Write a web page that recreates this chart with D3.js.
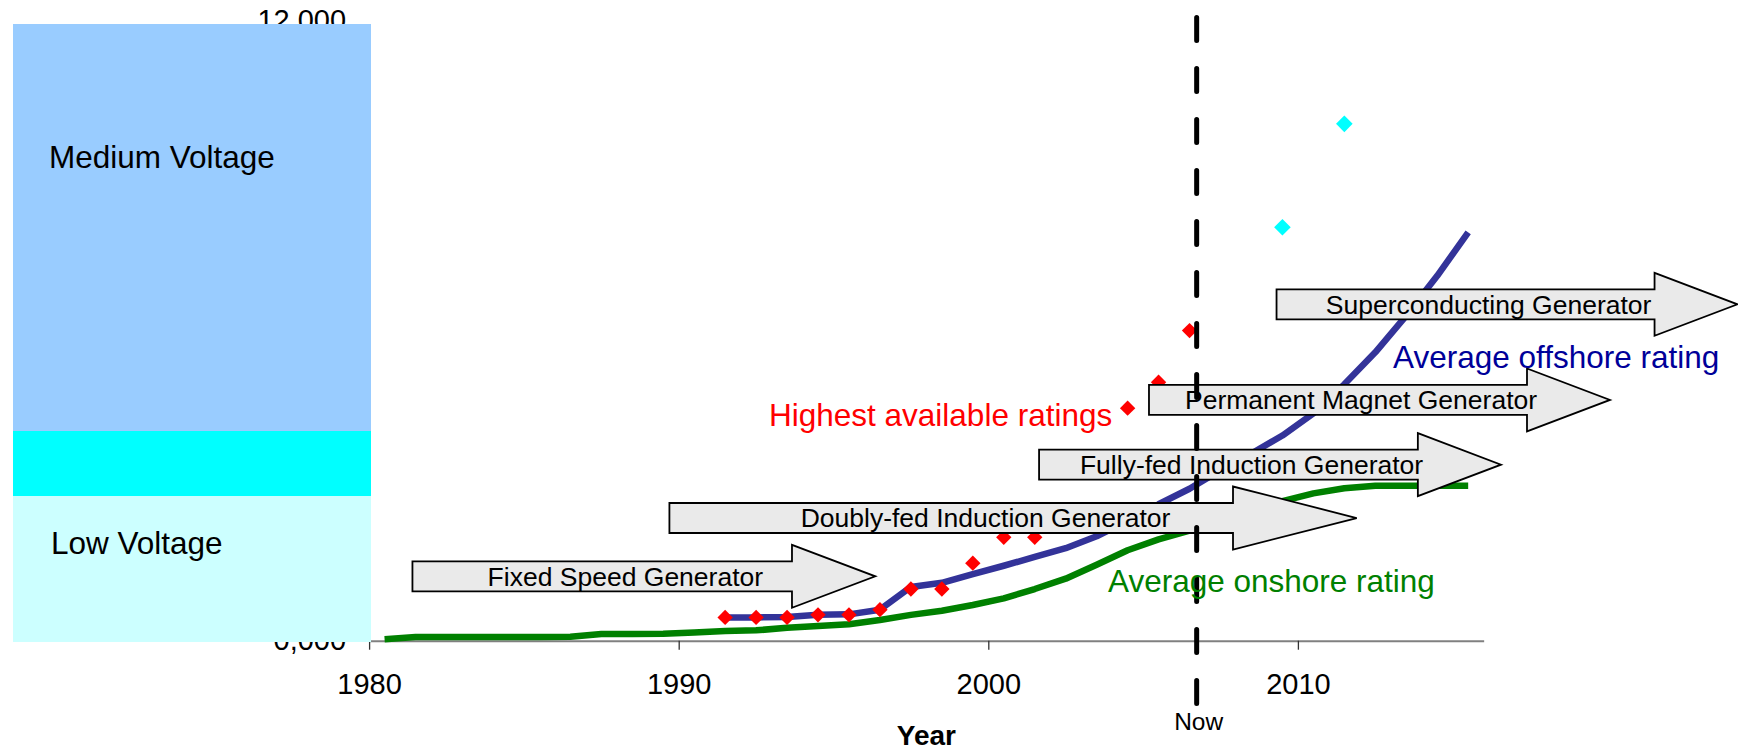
<!DOCTYPE html>
<html>
<head>
<meta charset="utf-8">
<script src="https://cdn.jsdelivr.net/npm/d3@7"></script>
<style>
  html, body { margin: 0; padding: 0; background: #ffffff; }
  svg { display: block; font-family: "Liberation Sans", Arial, sans-serif; }
</style>
</head>
<body>
<svg id="chart" width="1738" height="752"></svg>
<script>
// ---------------- data ----------------
const xTickYears = [1980, 1990, 2000, 2010];
const yTickValues = [0, 2000, 4000, 6000, 8000, 10000, 12000];

// Average onshore rating (kW)
const onshoreYears = [1980.5, 1981.5, 1982.5, 1983.5, 1984.5, 1985.5, 1986.5, 1987.5, 1988.5, 1989.5,
  1990.5, 1991.5, 1992.5, 1993.5, 1994.5, 1995.5, 1996.5, 1997.5, 1998.5, 1999.5,
  2000.5, 2001.5, 2002.5, 2003.5, 2004.5, 2005.5, 2006.5, 2007.5, 2008.5, 2009.5,
  2010.5, 2011.5, 2012.5, 2013.5, 2014.5, 2015.5];
const onshoreValues = [30, 70, 70, 70, 70, 70, 75, 130, 130, 135,
  160, 190, 200, 250, 285, 320, 400, 500, 580, 690,
  820, 1000, 1200, 1470, 1750, 1960, 2130, 2340, 2550, 2700,
  2850, 2950, 3000, 3000, 3000, 3000];

// Average offshore rating (kW)
const offshoreYears = [1991.5, 1992.5, 1993.5, 1994.5, 1995.5, 1996.5, 1997.5, 1998.5, 1999.5,
  2000.5, 2001.5, 2002.5, 2003.5, 2004.5, 2005.5, 2006.5, 2007.5, 2008.5, 2009.5,
  2010.5, 2011.5, 2012.5, 2013.5, 2014.5, 2015.5];
const offshoreValues = [450, 450, 460, 500, 510, 600, 1040, 1120, 1290,
  1450, 1620, 1790, 2020, 2320, 2640, 2940, 3300, 3620, 3970,
  4400, 4960, 5580, 6290, 7060, 7900];

// Highest available ratings (kW)
const highestYears = [1991.5, 1992.5, 1993.5, 1994.5, 1995.5, 1996.5, 1997.5, 1998.5, 1999.5,
  2000.5, 2001.5, 2004.5, 2005.5, 2006.5];
const highestValues = [450, 450, 450, 500, 500, 600, 1000, 1000, 1500, 2000, 2000, 4500, 5000, 6000];

// Future ratings (kW)
const futureYears = [2009.5, 2011.5];
const futureValues = [8000, 10000];

// Generator technology arrows
const arrowLabels = ["Fixed Speed Generator", "Doubly-fed Induction Generator",
  "Fully-fed Induction Generator", "Permanent Magnet Generator", "Superconducting Generator"];
const arrowStartYears = [1981.4, 1989.7, 2001.64, 2005.19, 2009.31];
const arrowEndYears = [1996.35, 2011.9, 2016.56, 2020.08, 2024.2];
const arrowLevels = [1246, 2374, 3406, 4658, 6509];

// Voltage bands (kW)
const bandNames = ["Low Voltage", "", "Medium Voltage"];
const bandFrom = [0, 2820, 4070];
const bandTo = [2820, 4070, 11930];

const nowYear = 2006.73;

// ---------------- chart ----------------
const svg = d3.select("#chart");
const W = 1738, H = 752;
svg.append("rect").attr("width", W).attr("height", H).attr("fill", "#ffffff");

const x = d3.scaleLinear().domain([1980, 2016]).range([369.1, 369.1 + 36 * 30.96]);
const y = d3.scaleLinear().domain([0, 12000]).range([640.7, 20.5]);

const FONT = '"Liberation Sans", Arial, sans-serif';

// y axis (mostly covered by voltage bands)
const fmtY = v => {
  const s = String(Math.round(v)).padStart(4, "0");
  return s.replace(/\B(?=(\d{3})+(?!\d))/g, ",");
};
const yAxis = svg.append("g")
  .attr("transform", `translate(${x(1980)},0)`)
  .call(d3.axisLeft(y).tickValues(yTickValues).tickFormat(fmtY)
    .tickSize(0).tickSizeOuter(0).tickPadding(23));
yAxis.select(".domain").remove();
yAxis.selectAll("text").attr("font-size", 29).attr("font-family", FONT).attr("fill", "#000");

// x axis
const xAxis = svg.append("g")
  .attr("transform", `translate(0,${y(0)})`)
  .call(d3.axisBottom(x).tickValues(xTickYears).tickFormat(d3.format("d"))
    .tickSize(9).tickSizeOuter(0).tickPadding(24));
xAxis.select(".domain").attr("stroke", "#808080").attr("stroke-width", 2);
xAxis.selectAll(".tick line").attr("stroke", "#333").attr("stroke-width", 1.3);
xAxis.selectAll("text").attr("font-size", 29).attr("font-family", FONT).attr("fill", "#000");

// voltage bands
const bandColors = ["#ccffff", "#00ffff", "#99ccff"];
const bandLeft = 13, bandRight = 371;
svg.append("g").attr("shape-rendering", "crispEdges")
  .selectAll("rect").data(bandFrom).join("rect")
  .attr("x", bandLeft)
  .attr("width", bandRight - bandLeft)
  .attr("y", (d, i) => Math.round(y(bandTo[i])))
  .attr("height", (d, i) => Math.round(y(bandFrom[i])) - Math.round(y(bandTo[i])) + 1)
  .attr("fill", (d, i) => bandColors[i]);

svg.append("text").attr("x", 51).attr("y", 554)
  .attr("font-size", 31.5).attr("font-family", FONT).attr("fill", "#000").text(bandNames[0]);
svg.append("text").attr("x", 49).attr("y", 168)
  .attr("font-size", 31.5).attr("font-family", FONT).attr("fill", "#000").text(bandNames[2]);

// lines
const line = d3.line().x(d => x(d[0])).y(d => y(d[1]));
svg.append("path")
  .datum(onshoreYears.map((yr, i) => [yr, onshoreValues[i]]))
  .attr("d", line).attr("fill", "none").attr("stroke", "#008000")
  .attr("stroke-width", 6.5).attr("stroke-linejoin", "round");
svg.append("path")
  .datum(offshoreYears.map((yr, i) => [yr, offshoreValues[i]]))
  .attr("d", line).attr("fill", "none").attr("stroke", "#333399")
  .attr("stroke-width", 6.5).attr("stroke-linejoin", "round");

// diamonds
const diamond = {
  draw(ctx, size) {
    const r = Math.sqrt(size / 2);
    ctx.moveTo(0, -r); ctx.lineTo(r, 0); ctx.lineTo(0, r); ctx.lineTo(-r, 0); ctx.closePath();
  }
};
svg.append("g").selectAll("path").data(highestYears).join("path")
  .attr("transform", (d, i) => `translate(${x(d)},${y(highestValues[i])})`)
  .attr("d", d3.symbol(diamond, 118)())
  .attr("fill", "#ff0000");
svg.append("g").selectAll("path").data(futureYears).join("path")
  .attr("transform", (d, i) => `translate(${x(d)},${y(futureValues[i])})`)
  .attr("d", d3.symbol(diamond, 138)())
  .attr("fill", "#00ffff");

// arrows
const shaftH = 30, headH = 63;
const arrowG = svg.append("g");
arrowLabels.forEach((label, i) => {
  const x0 = x(arrowStartYears[i]), x1 = x(arrowEndYears[i]);
  const cy = y(arrowLevels[i]);
  const headLen = 0.18 * (x1 - x0);
  const xb = x1 - headLen;
  const p = d3.path();
  p.moveTo(x0, cy - shaftH / 2);
  p.lineTo(xb, cy - shaftH / 2);
  p.lineTo(xb, cy - headH / 2);
  p.lineTo(x1, cy);
  p.lineTo(xb, cy + headH / 2);
  p.lineTo(xb, cy + shaftH / 2);
  p.lineTo(x0, cy + shaftH / 2);
  p.closePath();
  arrowG.append("path").attr("d", p.toString())
    .attr("fill", "#eaeaea").attr("stroke", "#000").attr("stroke-width", 1.8)
    .attr("stroke-linejoin", "miter");
  arrowG.append("text")
    .attr("x", x0 + (x1 - x0) * 0.46)
    .attr("y", cy + 0.358 * 26.5)
    .attr("text-anchor", "middle")
    .attr("font-size", 26.5).attr("font-family", FONT).attr("fill", "#000")
    .text(label);
});

// "Now" dashed line
svg.append("line")
  .attr("x1", x(nowYear)).attr("x2", x(nowYear))
  .attr("y1", 17.5).attr("y2", 707)
  .attr("stroke", "#000").attr("stroke-width", 5)
  .attr("stroke-dasharray", "23 28").attr("stroke-linecap", "round");
svg.append("text").attr("x", x(nowYear) + 2).attr("y", 730)
  .attr("text-anchor", "middle").attr("font-size", 24.5).attr("font-family", FONT)
  .attr("fill", "#000").text("Now");

// series labels
svg.append("text").attr("x", 769).attr("y", 426)
  .attr("font-size", 31.5).attr("font-family", FONT).attr("fill", "#ff0000")
  .text("Highest available ratings");
svg.append("text").attr("x", 1393).attr("y", 368)
  .attr("font-size", 31.5).attr("font-family", FONT).attr("fill", "#000099")
  .text("Average offshore rating");
svg.append("text").attr("x", 1108).attr("y", 592)
  .attr("font-size", 31.5).attr("font-family", FONT).attr("fill", "#008000")
  .text("Average onshore rating");

// axis title
svg.append("text").attr("x", (x(1980) + x(2016)) / 2).attr("y", 745)
  .attr("text-anchor", "middle").attr("font-size", 28).attr("font-weight", "bold")
  .attr("font-family", FONT).attr("fill", "#000").text("Year");
</script>
</body>
</html>
